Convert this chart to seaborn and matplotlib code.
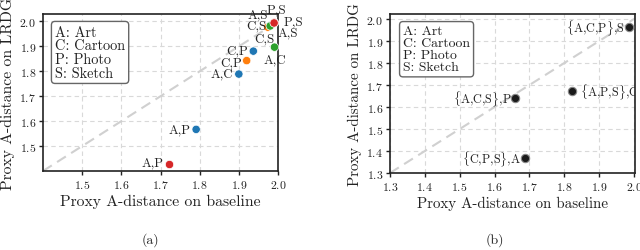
import numpy as np
import pandas as pd
import matplotlib
matplotlib.use("Agg")
import matplotlib.pyplot as plt
import seaborn as sns

# ---- data ----
# (a) pairs of source domains, coloured by target domain
pair_names = ["A,P", "C,P", "A,C",
              "C,P", "C,S", "P,S",
              "A,C", "A,S", "C,S",
              "A,P", "P,S", "A,S"]
pair_target = ["S", "S", "S",
               "A", "A", "A",
               "P", "P", "P",
               "C", "C", "C"]
pair_base = [1.791, 1.937, 1.900,
             1.920, 1.974, 1.990,
             1.991, 1.981, 1.980,
             1.723, 1.991, 1.990]
pair_lrdg = [1.567, 1.881, 1.789,
             1.843, 1.977, 1.995,
             1.897, 1.984, 1.982,
             1.426, 1.995, 1.994]

# (b) three source domains -> one target
triple_names = [r"$\{$A,C,P$\}$,S", r"$\{$A,P,S$\}$,C",
                r"$\{$A,C,S$\}$,P", r"$\{$C,P,S$\}$,A"]
triple_base = [1.987, 1.821, 1.660, 1.688]
triple_lrdg = [1.962, 1.671, 1.641, 1.367]

legend_text = "A: Art\nC: Cartoon\nP: Photo\nS: Sketch"

# label offsets in pixels (dx, dy) and alignment
pair_offsets = [(-17, 0), (-16, 1), (-17, 1),
                (-16, -2), (-11, 2), (2, 13),
                (0, -12), (-13, 11), (-6, -12),
                (-17, 2), (19, 1), (14, -9)]
triple_offsets = [(-5, 0, "right"), (8, 0, "left"),
                  (-4, 0, "right"), (-4, 0, "right")]

sns.set_style("whitegrid")
plt.rcParams["font.family"] = ["cmr10", "DejaVu Serif"]
plt.rcParams["mathtext.fontset"] = "cm"
plt.rcParams["axes.formatter.use_mathtext"] = True

fig = plt.figure(figsize=(6.4, 2.51), dpi=100)
W, H = 640, 251
ax1 = fig.add_axes([43 / W, 1 - 172 / H, 235 / W, 157 / H])
ax2 = fig.add_axes([390 / W, 1 - 174 / H, 245 / W, 159 / H])

def style_axes(ax, lo, xlim, ylim, ticks, fs_tick, fs_lab):
    ax.set_xlim(*xlim)
    ax.set_ylim(*ylim)
    ax.set_xticks(ticks)
    ax.set_yticks(ticks)
    ax.grid(True, color="#d9d9d9", linestyle=(0, (4, 3)), linewidth=0.8)
    ax.axline((lo, lo), slope=1, color="#d0d0d0", linestyle=(0, (5, 3)),
              linewidth=1.5, zorder=1)
    for s in ax.spines.values():
        s.set_color("#222222")
        s.set_linewidth(1.2)
    ax.tick_params(axis="both", which="both", direction="out", length=3,
                   width=1, color="#222222", labelsize=fs_tick, pad=2,
                   bottom=True, left=True, labelcolor="#222222")
    ax.set_xlabel("Proxy A-distance on baseline", fontsize=fs_lab,
                  labelpad=3, color="#222222")
    ax.set_ylabel("Proxy A-distance on LRDG", fontsize=fs_lab,
                  labelpad=3, color="#222222")

# ---- (a) ----
df_a = pd.DataFrame({"base": pair_base, "lrdg": pair_lrdg,
                     "target": pair_target, "name": pair_names})
style_axes(ax1, 1.4, (1.40, 2.0), (1.40, 2.03),
           [1.5, 1.6, 1.7, 1.8, 1.9, 2.0], 8.5, 11.3)
sns.scatterplot(data=df_a, x="base", y="lrdg", hue="target",
                hue_order=["S", "A", "P", "C"], palette="tab10",
                s=36, edgecolor="white", linewidth=0.5, legend=False,
                ax=ax1, zorder=3, clip_on=False)
for name, xb, yl, (dx, dy) in zip(pair_names, pair_base, pair_lrdg, pair_offsets):
    ax1.annotate(name, (xb, yl), xytext=(dx, dy), textcoords="offset pixels",
                 ha="center", va="center", fontsize=9.3, color="#222222",
                 zorder=4, annotation_clip=False)
ax1.annotate(legend_text, (0, 1), xycoords="axes fraction", xytext=(12, -11),
             textcoords="offset pixels", ha="left", va="top", fontsize=10.3,
             linespacing=1.0, color="#222222",
             bbox=dict(boxstyle="round,pad=0.25", facecolor="white",
                       edgecolor="#666666", linewidth=1))

# ---- (b) ----
df_b = pd.DataFrame({"base": triple_base, "lrdg": triple_lrdg,
                     "name": triple_names})
style_axes(ax2, 1.3, (1.30, 2.003), (1.30, 2.023),
           [1.3, 1.4, 1.5, 1.6, 1.7, 1.8, 1.9, 2.0], 8.5, 10.8)
sns.scatterplot(data=df_b, x="base", y="lrdg", color="#1a1a1a", s=36,
                edgecolor="#888888", linewidth=0.8, legend=False, ax=ax2,
                zorder=3)
for name, xb, yl, (dx, dy, ha) in zip(triple_names, triple_base, triple_lrdg,
                                      triple_offsets):
    t = ax2.annotate(name, (xb, yl), xytext=(dx, dy), textcoords="offset pixels",
                     ha=ha, va="center", fontsize=8.8, color="#222222", zorder=4)
    t.set_clip_path(ax2.patch)
ax2.annotate(legend_text, (0, 1), xycoords="axes fraction", xytext=(13, -11),
             textcoords="offset pixels", ha="left", va="top", fontsize=9.9,
             linespacing=1.0, color="#222222",
             bbox=dict(boxstyle="round,pad=0.25", facecolor="white",
                       edgecolor="#666666", linewidth=1))

fig.text(150 / W, 1 - 240 / H, "(a)", ha="center", va="center", fontsize=10)
fig.text(495 / W, 1 - 240 / H, "(b)", ha="center", va="center", fontsize=10)

fig.savefig("out.png", dpi=100)
